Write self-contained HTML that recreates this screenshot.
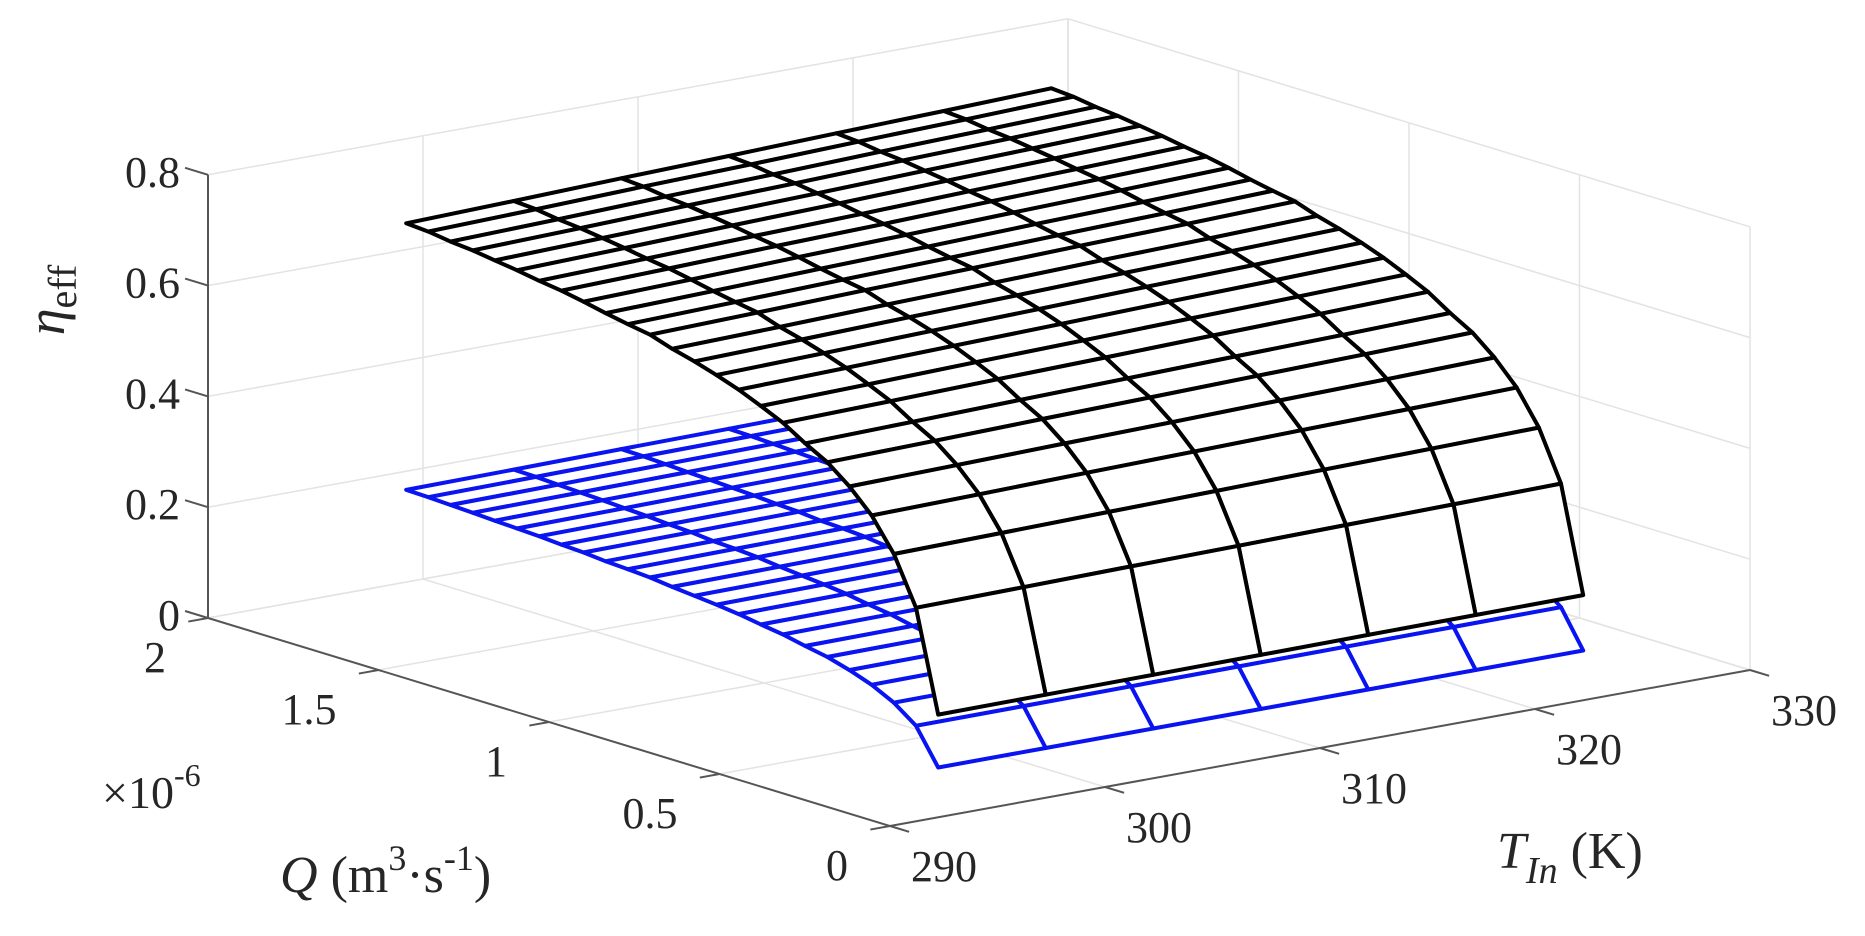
<!DOCTYPE html>
<html><head><meta charset="utf-8"><style>
html,body{margin:0;padding:0;background:#fff;}
svg{display:block;font-family:"Liberation Serif","DejaVu Serif",serif;}
</style></head><body>
<svg id="chart" width="1865" height="936" viewBox="0 0 1865 936" xmlns="http://www.w3.org/2000/svg">
<rect x="0" y="0" width="1865" height="936" fill="#fff"/>
<g id="grid"></g>
<g id="axes"></g>
<g id="blue"></g>
<g id="black"></g>
<g id="labels"></g>
<text x="0" y="0" transform="translate(64,300) rotate(-90)" font-size="54" fill="#262626" text-anchor="middle"><tspan font-style="italic">η</tspan><tspan font-size="40" dy="12">eff</tspan></text>
<text x="102" y="808" font-size="46" fill="#262626">×10<tspan font-size="32" dy="-22">-6</tspan></text>
<text x="280" y="892" font-size="52" fill="#262626"><tspan font-style="italic">Q</tspan> (m<tspan font-size="36" dy="-22">3</tspan><tspan dy="22">·s</tspan><tspan font-size="36" dy="-22">-1</tspan><tspan dy="22">)</tspan></text>
<text x="1497" y="868" font-size="52" fill="#262626"><tspan font-style="italic">T</tspan><tspan font-style="italic" font-size="38" dy="15">In</tspan><tspan dy="-15"> (K)</tspan></text>
</svg>
<script>
const tTicks=[290,300,310,320,330];
const qTicks=[0,0.5,1,1.5,2];
const zTicks=[0,0.2,0.4,0.6,0.8];
const tTickLabels=["290","300","310","320","330"];
const qTickLabels=["0","0.5","1","1.5","2"];
const zTickLabels=["0","0.2","0.4","0.6","0.8"];
const tVals=[297,302,307,312,317,322,327];
const qVals=[0.30,0.365,0.43,0.495,0.56,0.625,0.69,0.755,0.82,0.885,0.95,1.015,1.08,1.145,1.21,1.275,1.34,1.405,1.47,1.535,1.60,1.665,1.73,1.795,1.86];
const effBlackBase=[0.10,0.289,0.378,0.438,0.48,0.513,0.536,0.562,0.581,0.599,0.614,0.627,0.638,0.652,0.659,0.667,0.676,0.684,0.69,0.697,0.703,0.709,0.713,0.719,0.722];
const effBlueBase=[0.0,0.066,0.097,0.118,0.133,0.145,0.153,0.162,0.168,0.175,0.180,0.184,0.188,0.193,0.196,0.198,0.202,0.204,0.207,0.209,0.211,0.213,0.215,0.217,0.218];
const tFactor=[0.955,0.962,0.97,0.977,0.985,0.992,1.0];

const NS="http://www.w3.org/2000/svg";
const T0=290,T1=330,Q0=0,Q1=2,Z0=0,Z1=0.8;
function px(T,Q,z){return 890+21.5*(T-290)-341*Q;}
function py(T,Q,z){return 826-3.9*(T-290)-104*Q-554*z;}
function mk(tag,attrs,parent){const e=document.createElementNS(NS,tag);for(const k in attrs)e.setAttribute(k,attrs[k]);parent.appendChild(e);return e;}
function line3(a,b,attrs,parent){return mk('line',Object.assign({x1:px(...a),y1:py(...a),x2:px(...b),y2:py(...b)},attrs),parent);}

const grid=document.getElementById('grid');
const gAttr={stroke:'#e3e3e3','stroke-width':1.5};
tTicks.forEach(t=>{const l=line3([t,Q0,0],[t,Q1,0],gAttr,grid);

});
qTicks.forEach(q=>{const l=line3([T0,q,0],[T1,q,0],gAttr,grid);

});
tTicks.forEach(t=>{const l=line3([t,Q1,Z0],[t,Q1,Z1],gAttr,grid);

});
zTicks.forEach(z=>{const l=line3([T0,Q1,z],[T1,Q1,z],gAttr,grid);

});
qTicks.forEach(q=>{const l=line3([T1,q,Z0],[T1,q,Z1],gAttr,grid);

});
zTicks.forEach(z=>{const l=line3([T1,Q0,z],[T1,Q1,z],gAttr,grid);

});

const axes=document.getElementById('axes');
const aAttr={stroke:'#555','stroke-width':2};
let ax=line3([T0,Q1,Z0],[T0,Q1,Z1],aAttr,axes);


ax=line3([T0,Q0,0],[T0,Q1,0],aAttr,axes);


ax=line3([T0,Q0,0],[T1,Q0,0],aAttr,axes);



const labels=document.getElementById('labels');
function norm(dx,dy,L){const n=Math.hypot(dx,dy);return [dx/n*L,dy/n*L];}
const zdir=norm(-341,-104,24), qdir=norm(-21.5,3.9,20), tdir=norm(341,104,20);
zTicks.forEach((z,i)=>{const x=px(T0,Q1,z),y=py(T0,Q1,z);
const tk=mk('line',{x1:x,y1:y,x2:x+zdir[0],y2:y+zdir[1],stroke:'#555','stroke-width':2},axes);


const tx=mk('text',{x:x-28,y:y+12,'font-size':44,fill:'#262626','text-anchor':'end'},labels);
tx.textContent=zTickLabels[i];

});
qTicks.forEach((q,i)=>{const x=px(T0,q,0),y=py(T0,q,0);
const tk=mk('line',{x1:x,y1:y,x2:x+qdir[0],y2:y+qdir[1],stroke:'#555','stroke-width':2},axes);


const tx=mk('text',{x:x-42,y:y+54,'font-size':44,fill:'#262626','text-anchor':'end'},labels);
tx.textContent=qTickLabels[i];

});
tTicks.forEach((t,i)=>{const x=px(t,Q0,0),y=py(t,Q0,0);
const tk=mk('line',{x1:x,y1:y,x2:x+tdir[0],y2:y+tdir[1],stroke:'#555','stroke-width':2},axes);


const tx=mk('text',{x:x+21,y:y+55,'font-size':44,fill:'#262626','text-anchor':'start'},labels);
tx.textContent=tTickLabels[i];

});

function drawSurface(group,base,color,name){
  const quads=[];
  for(let j=0;j<tVals.length-1;j++)for(let i=0;i<qVals.length-1;i++){
    const pts=[[j,i],[j+1,i],[j+1,i+1],[j,i+1]].map(([a,b])=>[tVals[a],qVals[b],base[b]*tFactor[a]]);
    const depth=pts.reduce((s,p)=>s+3.9*(p[0]-290)+104*p[1],0);
    quads.push({pts,depth});
  }
  quads.sort((a,b)=>b.depth-a.depth);
  quads.forEach(qd=>{
    const d=qd.pts.map(p=>px(...p).toFixed(1)+','+py(...p).toFixed(1)).join(' ');
    const pg=mk('polygon',{points:d,fill:'#fff',stroke:color,'stroke-width':4,'stroke-linejoin':'round'},group);
    
    
  });
}
drawSurface(document.getElementById('blue'),effBlueBase,'#0a14f0','blue-surface');
drawSurface(document.getElementById('black'),effBlackBase,'#000','black-surface');
</script>
</body></html>
